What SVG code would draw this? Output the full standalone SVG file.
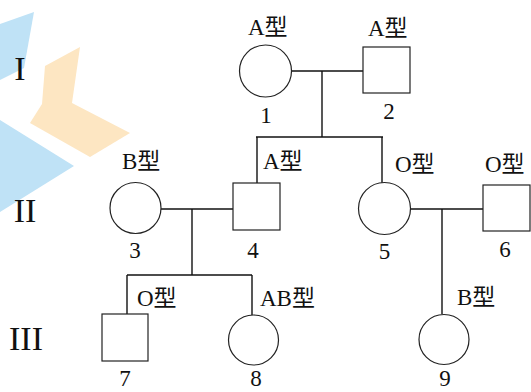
<svg xmlns="http://www.w3.org/2000/svg" width="531" height="392" viewBox="0 0 531 392">
<style>
.wm-b{fill:#bfe2f6}
.wm-o{fill:#fde6c2}
.sym{fill:#fff;stroke:#222;stroke-width:1.2}
.ln{stroke:#111;stroke-width:1.4;fill:none}
.t{font-family:"Liberation Serif","Noto Sans CJK SC",serif;font-size:23px;fill:#111}
.g{font-family:"Liberation Serif",serif;font-size:34px;fill:#111}
</style>
<rect width="531" height="392" fill="#fff"/>
<g id="watermark">
<polygon class="wm-b" points="0,24 34,12 24,68 0,80"/>
<polygon class="wm-o" points="80,47 45,66 42,104 30,123 90,157 130,133 72,103"/>
<path class="wm-b" d="M0,120 L74,166 L0,212 Z M0,170 L22,172 Q8,190 0,200 Z"/>
</g>
<g id="generations">
<text class="g" x="20" y="80" text-anchor="middle">I</text>
<text class="g" x="25" y="222" text-anchor="middle">II</text>
<text class="g" x="26" y="350" text-anchor="middle">III</text>
</g>
<g id="connectors">
<line class="ln" x1="291" y1="71" x2="363" y2="71"/>
<line class="ln" x1="322" y1="71" x2="322" y2="137"/>
<line class="ln" x1="256" y1="137" x2="383" y2="137"/>
<line class="ln" x1="257" y1="137" x2="257" y2="183"/>
<line class="ln" x1="382" y1="137" x2="382" y2="183"/>
<line class="ln" x1="161" y1="209" x2="233" y2="209"/>
<line class="ln" x1="192" y1="209" x2="192" y2="275"/>
<line class="ln" x1="127" y1="275" x2="252" y2="275"/>
<line class="ln" x1="127" y1="275" x2="127" y2="314"/>
<line class="ln" x1="252" y1="275" x2="252" y2="315"/>
<line class="ln" x1="410" y1="209" x2="483" y2="209"/>
<line class="ln" x1="442" y1="209" x2="442" y2="314"/>
</g>
<g id="n1">
<circle class="sym" cx="265.5" cy="71" r="26"/>
<text class="t" x="248" y="35">A型</text>
<text class="t" x="266" y="123" text-anchor="middle">1</text>
</g>
<g id="n2">
<rect class="sym" x="363" y="47" width="47" height="46"/>
<text class="t" x="368" y="36">A型</text>
<text class="t" x="389" y="119" text-anchor="middle">2</text>
</g>
<g id="n3">
<circle class="sym" cx="135.5" cy="208" r="25.5"/>
<text class="t" x="122" y="169">B型</text>
<text class="t" x="135" y="258" text-anchor="middle">3</text>
</g>
<g id="n4">
<rect class="sym" x="233" y="183" width="47" height="47"/>
<text class="t" x="263" y="169">A型</text>
<text class="t" x="253" y="258" text-anchor="middle">4</text>
</g>
<g id="n5">
<circle class="sym" cx="384.5" cy="208.5" r="26"/>
<text class="t" x="395" y="172">O型</text>
<text class="t" x="384.5" y="259" text-anchor="middle">5</text>
</g>
<g id="n6">
<rect class="sym" x="483" y="185" width="47" height="46"/>
<text class="t" x="485" y="172">O型</text>
<text class="t" x="505" y="257" text-anchor="middle">6</text>
</g>
<g id="n7">
<rect class="sym" x="102" y="314" width="46" height="47"/>
<text class="t" x="137" y="306">O型</text>
<text class="t" x="125" y="386" text-anchor="middle">7</text>
</g>
<g id="n8">
<circle class="sym" cx="253.5" cy="340" r="25"/>
<text class="t" x="260" y="306">AB型</text>
<text class="t" x="256" y="386" text-anchor="middle">8</text>
</g>
<g id="n9">
<circle class="sym" cx="444" cy="339.5" r="25"/>
<text class="t" x="457" y="305">B型</text>
<text class="t" x="445" y="386" text-anchor="middle">9</text>
</g>
</svg>
